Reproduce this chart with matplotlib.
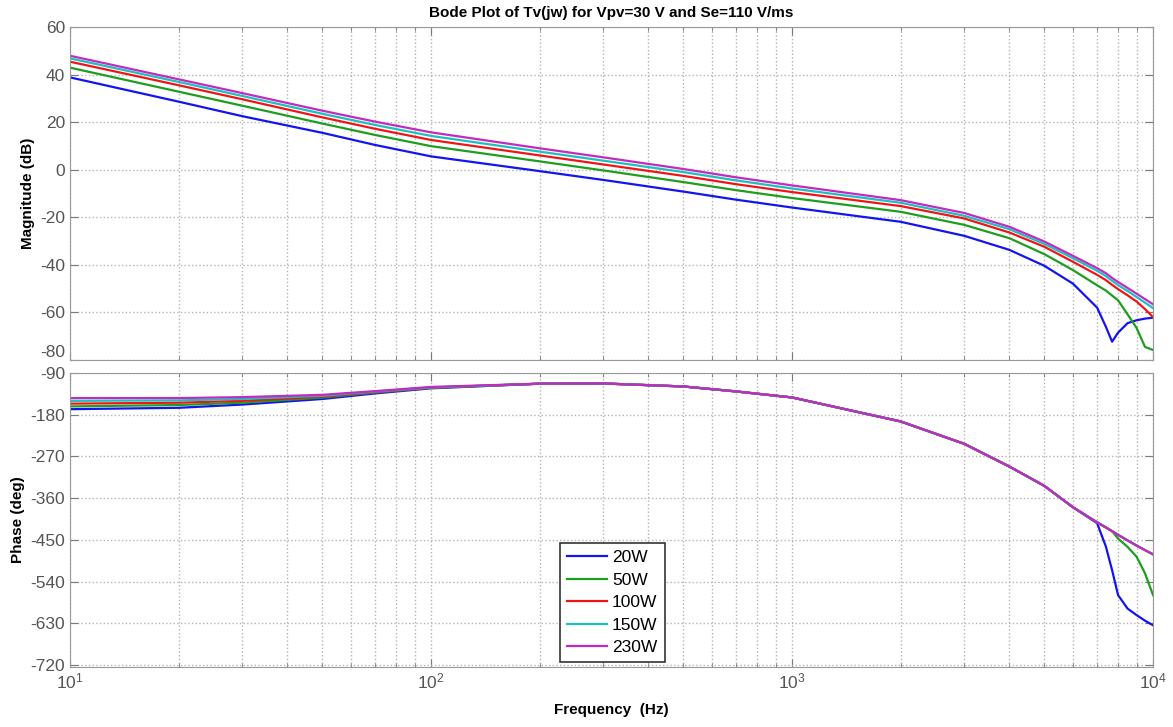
import matplotlib.pyplot as plt
from matplotlib.ticker import FixedLocator, LogLocator, NullFormatter

plt.rcParams['font.family'] = ['Liberation Sans', 'DejaVu Sans']
plt.rcParams['axes.unicode_minus'] = False

# frecuencias (Hz)
freq = [10, 20, 30, 50, 70, 100, 200, 300, 500, 700, 1000, 2000, 3000,
        4000, 5000, 6000, 7000, 7400, 7700, 8000, 8500, 9000, 9500, 10000]

labels = ['20W', '50W', '100W', '150W', '230W']
colors = ['#1414f0', '#1e9e1e', '#f01414', '#1cc0c0', '#c02cc0']

# magnitud (dB)
mag_20 = [38.8, 28.6, 22.5, 15.5, 10.4, 5.6, -0.6, -4.3, -9.2, -12.6, -15.9, -21.9, -27.8,
          -33.7, -40.4, -47.9, -58.0, -66.0, -72.3, -68.5, -64.5, -63.3, -62.6, -62.2]
mag_50 = [42.9, 32.8, 26.9, 19.4, 14.6, 9.9, 3.5, -0.3, -5.2, -8.6, -11.9, -17.7, -23.2,
          -28.8, -35.5, -42.2, -48.6, -50.8, -52.9, -54.9, -60.8, -66.5, -74.5, -75.8]
mag_100 = [45.4, 35.5, 29.6, 22.0, 17.2, 12.5, 6.0, 2.2, -2.6, -6.1, -9.4, -15.3, -20.5,
           -26.4, -32.4, -38.7, -44.2, -46.4, -48.4, -50.2, -52.8, -55.4, -58.6, -62.0]
mag_150 = [46.8, 36.9, 31.0, 23.5, 18.8, 14.2, 7.6, 3.8, -1.0, -4.5, -7.9, -13.9, -19.4,
           -25.0, -31.2, -37.2, -42.5, -44.7, -46.7, -48.5, -51.0, -53.5, -55.9, -58.2]
mag_230 = [47.9, 38.0, 32.2, 24.8, 20.2, 15.7, 9.0, 5.2, 0.3, -3.2, -6.6, -12.8, -18.2,
           -24.0, -30.2, -36.2, -41.4, -43.5, -45.5, -47.2, -49.7, -52.1, -54.4, -56.6]

# fase (graus)
ph_20 = [-168, -165, -158, -146, -134, -123, -113, -112.5, -119, -129.7, -142.7, -194.5, -242.7,
         -291.7, -333.4, -379.5, -414, -464, -515, -569, -598, -612, -624, -634]
ph_50 = [-162, -159, -154, -143, -132, -122, -113, -112.5, -119, -129.7, -142.7, -194.5, -242.7,
         -291.7, -333.4, -379.5, -412, -423, -431, -447, -465, -486, -522, -569]
ph_100 = [-156, -154, -150, -141, -131, -121.5, -113, -112.5, -119, -129.7, -142.7, -194.5, -242.7,
          -291.7, -333.4, -379.5, -412, -423, -431, -439, -451, -462, -472, -481]
ph_150 = [-150, -149, -146, -139, -130, -121, -113, -112.5, -119, -129.7, -142.7, -194.5, -242.7,
          -291.7, -333.4, -379.5, -412, -423, -431, -439, -451, -462, -472, -481]
ph_230 = [-144, -144, -142, -137, -129, -120, -113, -112.5, -119, -129.7, -142.7, -194.5, -242.7,
          -291.7, -333.4, -379.5, -412, -423, -431, -439, -451, -462, -472, -481]

mags = [mag_20, mag_50, mag_100, mag_150, mag_230]
fases = [ph_20, ph_50, ph_100, ph_150, ph_230]

fig = plt.figure(figsize=(11.73, 7.27), dpi=100)
ax1 = fig.add_axes([0.0597, 0.5048, 0.9233, 0.4581])
ax2 = fig.add_axes([0.0597, 0.0825, 0.9233, 0.4044], sharex=ax1)

for m, p, c, l in zip(mags, fases, colors, labels):
    ax1.plot(freq, m, color=c, lw=1.6)
    ax2.plot(freq, p, color=c, lw=1.6, label=l)

cinza = '#7a7a7a'
for ax in (ax1, ax2):
    ax.set_xscale('log')
    ax.set_xlim(10, 10000)
    ax.xaxis.set_minor_locator(LogLocator(base=10, subs=range(2, 10)))
    ax.xaxis.set_minor_formatter(NullFormatter())
    ax.grid(True, which='major', linestyle=':', color='#b4b4b4', lw=1)
    ax.grid(True, which='minor', axis='x', linestyle=':', color='#b4b4b4', lw=1)
    ax.tick_params(which='both', direction='in', top=True, right=True, color=cinza,
                   labelcolor='#555555', labelsize=12.5)
    ax.tick_params(which='major', length=6)
    ax.tick_params(which='minor', length=3)
    for s in ax.spines.values():
        s.set_color('#999999')

ax1.set_ylim(-80, 60)
ax1.yaxis.set_major_locator(FixedLocator(range(-80, 61, 20)))
ax1.tick_params(labelbottom=False)
ax1.set_ylabel('Magnitude (dB)', fontweight='bold', fontsize=11)
ax1.set_title('Bode Plot of Tv(jw) for Vpv=30 V and Se=110 V/ms', fontweight='bold', fontsize=11, pad=7)

ax2.set_ylim(-724, -90)
ax2.yaxis.set_major_locator(FixedLocator(range(-720, -89, 90)))
ax2.set_ylabel('Phase (deg)', fontweight='bold', fontsize=11)
ax2.set_xlabel('Frequency  (Hz)', fontweight='bold', fontsize=11, labelpad=8)

# desloca um pouco o rotulo -80 para nao encostar no -90
ax1.get_yticklabels()[0].set_verticalalignment('bottom')

leg = ax2.legend(loc='lower left', bbox_to_anchor=(0.4524, 0.017), borderaxespad=0,
                 fontsize=12.5, fancybox=False, framealpha=1, edgecolor='#333333',
                 handlelength=2.3, handletextpad=0.3, borderpad=0.4, labelspacing=0.42)
leg.get_frame().set_linewidth(1.2)

fig.savefig('out.png', dpi=100)
